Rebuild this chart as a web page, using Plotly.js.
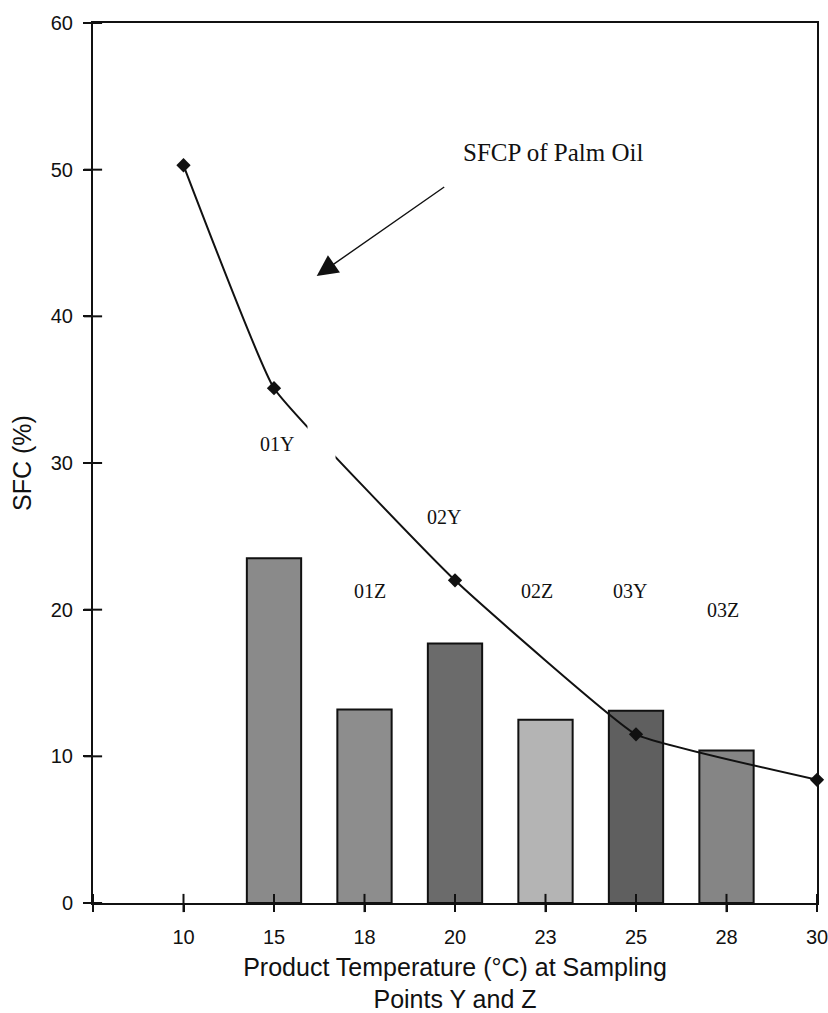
<!DOCTYPE html>
<html>
<head>
<meta charset="utf-8">
<script src="https://cdn.plot.ly/plotly-3.0.1.min.js"></script>
<style>html,body{margin:0;padding:0;background:#fff;}#chart{width:828px;height:1013px;}</style>
</head>
<body>
<div id="chart"></div>
<script>
// Category tick labels (product temperature, °C)
const categories = ["10", "15", "18", "20", "23", "25", "28", "30"];

// Bars: SFC of samples at sampling points
const barTemps = ["15", "18", "20", "23", "25", "28"];
const barValues = [23.5, 13.2, 17.7, 12.5, 13.1, 10.4];
const barLabels = ["01Y", "01Z", "02Y", "02Z", "03Y", "03Z"];

// Line: SFCP of palm oil
const lineTemps = ["10", "15", "20", "25", "30"];
const lineValues = [50.3, 35.1, 22.0, 11.5, 8.4];

// Styles (kept separate from data)
const barColors = ["#8a8a8a", "#8d8d8d", "#6b6b6b", "#b4b4b4", "#5f5f5f", "#858585"];

const idx = t => categories.indexOf(t) + 1;
const tickVals = [0].concat(categories.map((c, i) => i + 1));
const tickText = [""].concat(categories);
const yTicks = [0, 10, 20, 30, 40, 50, 60];

const serif = "Liberation Serif, Times New Roman, serif";
const sans = "Liberation Sans, Arial, sans-serif";

const tickMarkStyle = (sym) => ({
  symbol: sym, size: 13, color: "#111", line: {color: "#111", width: 2}
});

const traces = [
  {
    type: "bar",
    x: barTemps.map(idx),
    y: barValues,
    width: 0.6,
    marker: {color: barColors, line: {color: "#111", width: 2}},
    showlegend: false
  },
  {
    type: "scatter",
    mode: "lines+markers",
    x: lineTemps.map(idx),
    y: lineValues,
    cliponaxis: false,
    line: {color: "#111", width: 2, shape: "spline", smoothing: 0.3},
    marker: {symbol: "diamond", size: 11, color: "#111"},
    showlegend: false
  },
  {
    // crossing tick marks on the x axis
    type: "scatter", mode: "markers", x: tickVals, y: tickVals.map(() => 0),
    cliponaxis: false, marker: tickMarkStyle("line-ns"),
    showlegend: false, hoverinfo: "skip"
  },
  {
    // crossing tick marks on the y axis
    type: "scatter", mode: "markers", x: yTicks.map(() => 0), y: yTicks,
    cliponaxis: false, marker: tickMarkStyle("line-ew"),
    showlegend: false, hoverinfo: "skip"
  }
];

// Label positions for samples
const labelPos = {
  "01Y": [2.03, 31.3], "01Z": [3.06, 21.3], "02Y": [3.88, 26.3],
  "02Z": [4.91, 21.25], "03Y": [5.93, 21.25], "03Z": [6.96, 19.95]
};

const annotations = barLabels.map(l => ({
  x: labelPos[l][0], y: labelPos[l][1], xref: "x", yref: "y",
  text: l, showarrow: false, font: {family: serif, size: 20, color: "#111"}
}));
annotations.push({
  x: 5.08, y: 51.15, xref: "x", yref: "y", text: "SFCP of Palm Oil",
  showarrow: false, font: {family: serif, size: 25, color: "#111"}
});
annotations.push({
  x: 2.472, y: 42.75, xref: "x", yref: "y", text: "",
  showarrow: true, arrowhead: 2, arrowsize: 3, arrowwidth: 1.4, arrowcolor: "#111",
  ax: 129, ay: -90, axref: "pixel", ayref: "pixel", standoff: 0
});

const layout = {
  width: 828, height: 1013,
  margin: {l: 93, r: 11, t: 23, b: 110},
  paper_bgcolor: "#fff", plot_bgcolor: "#fff",
  font: {family: sans, color: "#111"},
  xaxis: {
    range: [0, 8], tickmode: "array", tickvals: tickVals, ticktext: tickText,
    ticks: "outside", ticklen: 7, tickwidth: 2, tickcolor: "#111",
    showline: true, linewidth: 2, linecolor: "#111", mirror: true,
    showgrid: false, zeroline: false, ticklabelstandoff: 8,
    ticklabeloverflow: "allow",
    tickfont: {family: sans, size: 20, color: "#111"},
    title: {text: "Product Temperature (°C) at Sampling<br>Points Y and Z",
            font: {family: sans, size: 25, color: "#111"}, standoff: 14}
  },
  yaxis: {
    range: [0, 60], tickmode: "array", tickvals: yTicks,
    ticks: "outside", ticklen: 8, tickwidth: 2, tickcolor: "#111",
    showline: true, linewidth: 2, linecolor: "#111", mirror: true,
    showgrid: false, zeroline: false, ticklabelstandoff: 6,
    tickfont: {family: sans, size: 20, color: "#111"},
    title: {text: "SFC (%)", font: {family: sans, size: 25, color: "#111"}, standoff: 12}
  },
  shapes: [{
    type: "rect", xref: "x", yref: "y", x0: 2.37, x1: 2.68, y0: 29, y1: 34,
    fillcolor: "#fff", line: {width: 0}, layer: "above"
  }],
  annotations: annotations
};

Plotly.newPlot("chart", traces, layout, {displayModeBar: false, staticPlot: true});
</script>
</body>
</html>
